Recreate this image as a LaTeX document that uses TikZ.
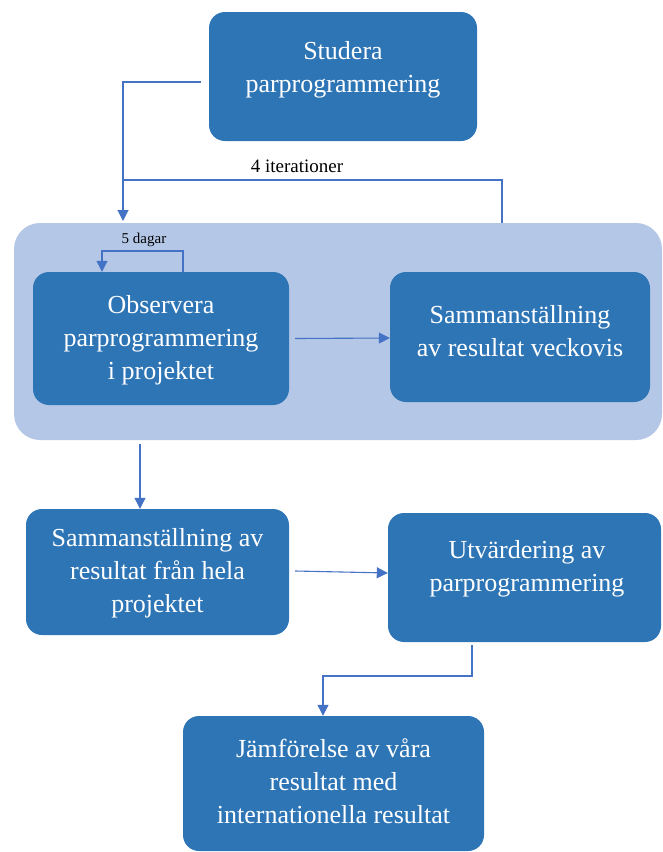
\documentclass[tikz,border=0pt]{standalone}
\usepackage{fontspec}
\setmainfont{Liberation Serif}
\usetikzlibrary{arrows.meta,calc}
\definecolor{boxblue}{HTML}{2E75B6}
\definecolor{areablue}{HTML}{B4C7E7}
\definecolor{lineblue}{HTML}{4472C4}

\begin{document}
\begin{tikzpicture}[x=1pt,y=-1pt,
  box/.style={fill=boxblue, rounded corners=16pt, inner sep=0pt},
  txt/.style={text=white, align=center, inner sep=0pt, font=\fontsize{26}{33}\selectfont},
  link/.style={draw=lineblue, line width=1.1pt},
  flow/.style={link, -{Triangle[width=11pt,length=11pt]}},
  note/.style={inner sep=1pt}]
  \clip (0,0) rectangle (662,852);
  % week block
  \fill[areablue, rounded corners=26pt] (14,223) rectangle (662,440);
  \node[box, minimum width=268pt, minimum height=129pt] (studera) at (343,76.5) {};
  \node[box, minimum width=256pt, minimum height=133pt] (observera) at (161,338.5) {};
  \node[box, minimum width=260pt, minimum height=130pt] (vecka) at (520,337) {};
  \node[box, minimum width=263pt, minimum height=126pt] (hela) at (157.5,572) {};
  \node[box, minimum width=273pt, minimum height=129pt] (utv) at (524.5,577.5) {};
  \node[box, minimum width=301pt, minimum height=135pt] (jamf) at (333.5,783.5) {};
  % texts
  \node[txt] (studera-t) at (343,70) {Studera\\parprogrammering};
  \node[txt] (observera-t) at (161,340) {Observera\\parprogrammering\\i projektet};
  \node[txt] (vecka-t) at (520,331) {Sammanst\"allning\\av resultat veckovis};
  \node[txt] (hela-t) at (157.5,573) {Sammanst\"allning av\\resultat fr\aa n hela\\projektet};
  \node[txt] (utv-t) at (527,568.5) {Utv\"ardering av\\parprogrammering};
  \node[txt] (jamf-t) at (333.5,781) {J\"amf\"orelse av v\aa ra\\resultat med\\internationella resultat};
  \coordinate (blocktop) at (502,223);
  \coordinate (blockbot) at (140,444);
  \coordinate (utvbot) at (472,645);
  % loops
  \draw[flow] ($(studera.west)+(-8,5.5)$) -- (123,82) -- (123,221);
  \draw[link] (blocktop) -- (502,180) -- (123,180);
  \node[note, font=\fontsize{19}{21}\selectfont] (iter) at (297,166) {4 iterationer};
  \draw[flow] (observera.north -| 183,0) -- (183,251) -- (102,251) -- (observera.north -| 102,0);
  \node[note, font=\fontsize{15}{17}\selectfont] (dagar) at (144,240) {5 dagar};
  % steps
  \draw[flow] ($(observera.east)+(6,0)$) -- (vecka.west |- 0,338);
  \draw[flow] (blockbot) -- (hela.north -| blockbot);
  \draw[flow] ($(hela.east)+(6,-1)$) -- (utv.west |- 0,573);
  \draw[flow] (utvbot) -- (472,676) -- (323,676) -- (jamf.north -| 323,0);
\end{tikzpicture}
\end{document}
